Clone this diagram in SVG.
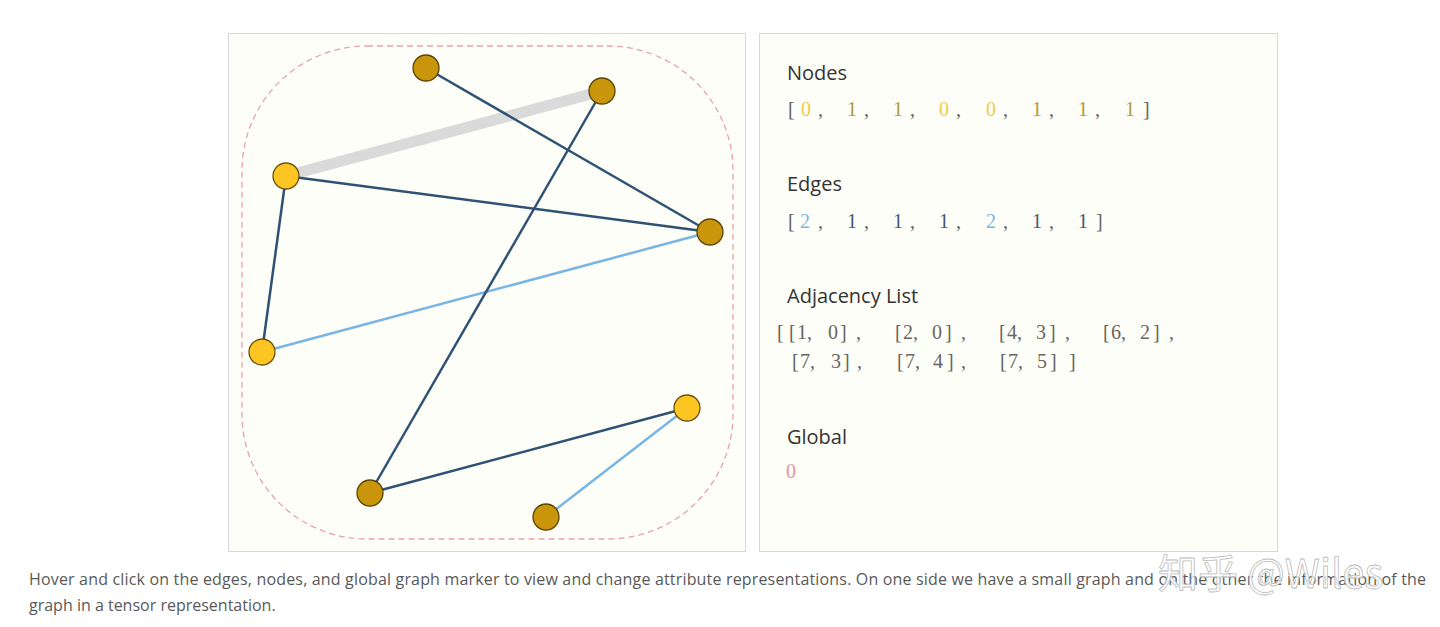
<svg xmlns="http://www.w3.org/2000/svg" width="1440" height="627" viewBox="0 0 1440 627">
<style>
.panel{fill:#fefef8;stroke:#d8d8d8;stroke-width:1}
.hd{font-family:"Open Sans","Liberation Sans",sans-serif;font-size:20px;fill:#333}
.ls{font-family:"Liberation Serif","DejaVu Serif",serif;font-size:20px;fill:#666}
.n0{fill:#f2c94c}.n1{fill:#b4993a}.e2{fill:#7db5de}.e1{fill:#3e5977}.gl{fill:#e8929c}
.cap{font-family:"Open Sans","Liberation Sans",sans-serif;font-size:16px;fill:#595959}
.dk{stroke:#2f5173;stroke-width:2.5;fill:none}
.lt{stroke:#78b5e4;stroke-width:2.5;fill:none}
.na{fill:#c8950b;stroke:#5a4306;stroke-width:1.3}
.nb{fill:#fcc521;stroke:#6b5210;stroke-width:1.3}
</style>
<rect width="1440" height="627" fill="#ffffff"/>
<rect class="panel" x="228.5" y="33.5" width="517" height="518"/>
<rect class="panel" x="759.5" y="33.5" width="518" height="518"/>
<rect x="242" y="46" width="491" height="493" rx="125" ry="125" fill="none" stroke="#e9a3a6" stroke-width="1.3" stroke-dasharray="6,4"/>
<g id="edges">
<line x1="286" y1="176" x2="602" y2="91" stroke="#dadada" stroke-width="11"/>
<line class="dk" x1="426" y1="68" x2="710" y2="232"/>
<line class="dk" x1="286" y1="176" x2="710" y2="232"/>
<line class="dk" x1="286" y1="176" x2="262" y2="352"/>
<line class="lt" x1="262" y1="352" x2="710" y2="232"/>
<line class="dk" x1="602" y1="91" x2="370" y2="493"/>
<line class="dk" x1="370" y1="493" x2="687" y2="408"/>
<line class="lt" x1="546" y1="517" x2="687" y2="408"/>
</g>
<g id="node0"><circle class="na" cx="426" cy="68" r="13"/></g>
<g id="node1"><circle class="na" cx="602" cy="91" r="13"/></g>
<g id="node2"><circle class="nb" cx="286" cy="176" r="13"/></g>
<g id="node3"><circle class="na" cx="710" cy="232" r="13"/></g>
<g id="node4"><circle class="nb" cx="262" cy="352" r="13"/></g>
<g id="node5"><circle class="nb" cx="687" cy="408" r="13"/></g>
<g id="node6"><circle class="na" cx="370" cy="493" r="13"/></g>
<g id="node7"><circle class="na" cx="546" cy="517" r="13"/></g>
<g id="info">
<text class="hd" x="787" y="80">Nodes</text>
<text class="ls" y="116"><tspan x="788">[</tspan><tspan class="n0" x="801">0</tspan><tspan x="818">,</tspan><tspan class="n1" x="847">1</tspan><tspan x="864">,</tspan><tspan class="n1" x="893">1</tspan><tspan x="910">,</tspan><tspan class="n0" x="939">0</tspan><tspan x="956">,</tspan><tspan class="n0" x="986">0</tspan><tspan x="1003">,</tspan><tspan class="n1" x="1032">1</tspan><tspan x="1049">,</tspan><tspan class="n1" x="1078">1</tspan><tspan x="1095">,</tspan><tspan class="n1" x="1125">1</tspan><tspan x="1143">]</tspan></text>
<text class="hd" x="787" y="191">Edges</text>
<text class="ls" y="228"><tspan x="788">[</tspan><tspan class="e2" x="800">2</tspan><tspan x="818">,</tspan><tspan class="e1" x="847">1</tspan><tspan x="864">,</tspan><tspan class="e1" x="893">1</tspan><tspan x="910">,</tspan><tspan class="e1" x="939">1</tspan><tspan x="956">,</tspan><tspan class="e2" x="986">2</tspan><tspan x="1003">,</tspan><tspan class="e1" x="1032">1</tspan><tspan x="1049">,</tspan><tspan class="e1" x="1078">1</tspan><tspan x="1096">]</tspan></text>
<text class="hd" x="787" y="303">Adjacency List</text>
<text class="ls" y="339"><tspan x="777">[</tspan><tspan x="789">[</tspan><tspan x="797">1</tspan><tspan x="807">,</tspan><tspan x="828">0</tspan><tspan x="840">]</tspan><tspan x="856">,</tspan><tspan x="895">[</tspan><tspan x="903">2</tspan><tspan x="913">,</tspan><tspan x="932">0</tspan><tspan x="945">]</tspan><tspan x="961">,</tspan><tspan x="999">[</tspan><tspan x="1007">4</tspan><tspan x="1017">,</tspan><tspan x="1036">3</tspan><tspan x="1049">]</tspan><tspan x="1065">,</tspan><tspan x="1103">[</tspan><tspan x="1111">6</tspan><tspan x="1121">,</tspan><tspan x="1140">2</tspan><tspan x="1153">]</tspan><tspan x="1169">,</tspan></text>
<text class="ls" y="368"><tspan x="792">[</tspan><tspan x="800">7</tspan><tspan x="810">,</tspan><tspan x="831">3</tspan><tspan x="843">]</tspan><tspan x="857">,</tspan><tspan x="897">[</tspan><tspan x="905">7</tspan><tspan x="915">,</tspan><tspan x="933">4</tspan><tspan x="947">]</tspan><tspan x="961">,</tspan><tspan x="1000">[</tspan><tspan x="1008">7</tspan><tspan x="1018">,</tspan><tspan x="1037">5</tspan><tspan x="1050">]</tspan><tspan x="1069">]</tspan></text>
<text class="hd" x="787" y="444">Global</text>
<text class="ls gl" x="786" y="478">0</text>
</g>
<text class="cap" x="29" y="585" textLength="1397" lengthAdjust="spacing">Hover and click on the edges, nodes, and global graph marker to view and change attribute representations. On one side we have a small graph and on the other the information of the</text>
<text class="cap" x="29" y="611">graph in a tensor representation.</text>
<text x="1158" y="588" font-family="'Noto Sans CJK SC','Noto Sans',sans-serif" font-size="40" fill="#ffffff" fill-opacity="0.75" stroke="#bbbbbb" stroke-width="0.8">知乎 @Wiles</text>
</svg>
